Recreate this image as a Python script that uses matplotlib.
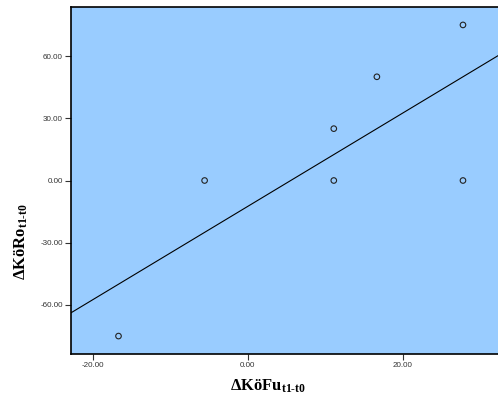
import numpy as np
import matplotlib.pyplot as plt

# Daten
delta_koefu = [-16.67, -5.56, 11.11, 11.11, 16.67, 27.78, 27.78]
delta_koero = [-75.0, 0.0, 0.0, 25.0, 50.0, 75.0, 0.0]
x_ticks = [-20, 0, 20]
y_ticks = [-60, -30, 0, 30, 60]

plt.rcParams['mathtext.fontset'] = 'custom'
plt.rcParams['mathtext.rm'] = 'Liberation Serif:bold'
plt.rcParams['mathtext.it'] = 'Liberation Serif:bold'
plt.rcParams['mathtext.bf'] = 'Liberation Serif:bold'

x = np.array(delta_koefu)
y = np.array(delta_koero)

# Regressionsgerade (OLS)
slope, intercept = np.polyfit(x, y, 1)
xmin, xmax = -22.8, 32.3
xl = np.array([xmin, xmax])

fig = plt.figure(figsize=(4.98, 3.98), dpi=100)
ax = fig.add_axes([71/498, 1 - 353.7/398, 1 - 71/498, (353.7 - 7.3)/398])
ax.set_facecolor('#99CCFF')

ax.plot(xl, slope * xl + intercept, color='black', linewidth=0.8)
ax.scatter(x, y, s=16, facecolors='none', edgecolors='#222222', linewidths=0.8, zorder=3)

ax.set_xlim(xmin, xmax)
ax.set_ylim(-83.5, 83.5)
ax.set_xticks(x_ticks)
ax.set_yticks(y_ticks)
ax.set_xticklabels(['%.2f' % v for v in x_ticks])
ax.set_yticklabels(['%.2f' % v for v in y_ticks])
ax.tick_params(direction='out', length=4, width=0.8, pad=2, labelsize=5.8,
               labelcolor='#333333', colors='#333333')
for lab in ax.get_xticklabels() + ax.get_yticklabels():
    lab.set_family('Liberation Sans')

ax.spines['right'].set_visible(False)
for s in ['left', 'bottom', 'top']:
    ax.spines[s].set_linewidth(1.2)
    ax.spines[s].set_color('black')

fig.text(268/498, 1 - 386/398, r'ΔKöFu$_{t1\text{-}t0}$', ha='center', va='center',
         fontsize=12, fontweight='bold', family='Liberation Serif')
fig.text(21/498, 1 - 242/398, r'ΔKöRo$_{t1\text{-}t0}$', ha='center', va='center',
         rotation=90, fontsize=12, fontweight='bold', family='Liberation Serif')

plt.savefig('out.png')
